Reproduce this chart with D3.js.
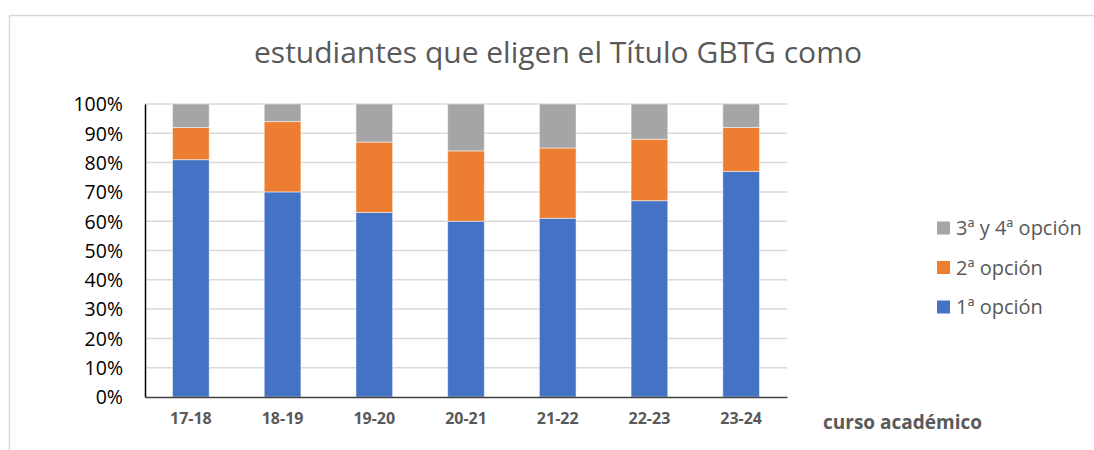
<!DOCTYPE html>
<html>
<head>
<meta charset="utf-8">
<script src="https://cdn.jsdelivr.net/npm/d3@7"></script>
<style>
  body { margin: 0; background: #fff; }
  text { font-family: 'Open Sans', 'Noto Sans', sans-serif; }
</style>
</head>
<body>
<svg width="1094" height="450"></svg>
<script>
// Data
const cursos = ['17-18', '18-19', '19-20', '20-21', '21-22', '22-23', '23-24'];
const opcion1 = [81, 70, 63, 60, 61, 67, 77];
const opcion2 = [11, 24, 24, 24, 24, 21, 15];
const opcion34 = [8, 6, 13, 16, 15, 12, 8];
const seriesNames = ['1ª opción', '2ª opción', '3ª y 4ª opción'];
const yTicks = [0, 10, 20, 30, 40, 50, 60, 70, 80, 90, 100];

let svg = d3.select('svg');
let width = +svg.attr('width');

let colors = ['#4472c4', '#ed7d31', '#a5a5a5'];

// Outer chart frame (only top and left edges visible)
svg.append('path')
    .attr('d', 'M9.5,450 L9.5,15.5 L1094,15.5')
    .attr('fill', 'none')
    .attr('stroke', '#d9d9d9')
    .attr('stroke-width', 1.5);

// Title
svg.append('text')
    .attr('x', 558)
    .attr('y', 63)
    .attr('text-anchor', 'middle')
    .attr('fill', '#595959')
    .style('font-size', '30px')
    .text('estudiantes que eligen el Título GBTG como');

let margin = { left: 145, right: 787, top: 104, bottom: 397 };

let x = d3.scaleBand()
    .domain(cursos)
    .range([margin.left, margin.right])
    .paddingInner(0.6)
    .paddingOuter(0.3);

let y = d3.scaleLinear()
    .domain([0, 100])
    .range([margin.bottom, margin.top]);

// Gridlines
svg.append('g')
  .selectAll('line')
  .data(yTicks.filter(d => d > 0))
  .enter().append('line')
    .attr('x1', margin.left)
    .attr('x2', margin.right)
    .attr('y1', d => y(d))
    .attr('y2', d => y(d))
    .attr('stroke', '#d9d9d9')
    .attr('stroke-width', 1.5);

// Stacked bars
let rows = cursos.map((c, i) => ({ curso: c, a: opcion1[i], b: opcion2[i], c: opcion34[i] }));
let stack = d3.stack().keys(['a', 'b', 'c'])(rows);

svg.append('g')
  .selectAll('g')
  .data(stack)
  .enter().append('g')
    .attr('fill', (d, i) => colors[i])
  .selectAll('rect')
  .data(d => d)
  .enter().append('rect')
    .attr('x', d => x(d.data.curso))
    .attr('width', x.bandwidth())
    .attr('y', d => y(d[1]))
    .attr('height', d => y(d[0]) - y(d[1]))
    .attr('stroke', '#ffffff')
    .attr('stroke-opacity', 0.5)
    .attr('stroke-width', 1);

// Y axis
let yAxis = svg.append('g')
    .attr('transform', 'translate(' + margin.left + ',0)')
    .call(d3.axisLeft(y).tickValues(yTicks).tickSize(0).tickPadding(22).tickFormat(d => d + '%'));
yAxis.select('.domain').attr('stroke', '#000').attr('stroke-width', 1.5);
yAxis.selectAll('text')
    .attr('fill', '#000')
    .attr('dy', '0.35em')
    .style('font-size', '19.5px')
    .style('font-family', "'Open Sans', sans-serif");

// X axis
let xAxis = svg.append('g')
    .attr('transform', 'translate(0,' + margin.bottom + ')')
    .call(d3.axisBottom(x).tickSize(0).tickPadding(16));
xAxis.select('.domain').attr('stroke', '#404040').attr('stroke-width', 1.5);
xAxis.selectAll('text')
    .attr('fill', '#595959')
    .style('font-size', '16px')
    .style('font-weight', 'bold')
    .style('font-family', "'Open Sans', sans-serif");

// X axis title
svg.append('text')
    .attr('x', 823)
    .attr('y', 429)
    .attr('fill', '#595959')
    .style('font-size', '19px')
    .style('font-weight', 'bold')
    .text('curso académico');

// Legend
let legendOrder = [2, 1, 0];
let legend = svg.append('g')
  .selectAll('g')
  .data(legendOrder)
  .enter().append('g')
    .attr('transform', (d, i) => 'translate(937,' + (228 + i * 39.5) + ')');

legend.append('rect')
    .attr('x', 0)
    .attr('y', -6.5)
    .attr('width', 13)
    .attr('height', 13)
    .attr('fill', d => colors[d]);

legend.append('text')
    .attr('x', 19)
    .attr('dy', '0.35em')
    .attr('fill', '#595959')
    .style('font-size', '20px')
    .text(d => seriesNames[d]);
</script>
</body>
</html>
